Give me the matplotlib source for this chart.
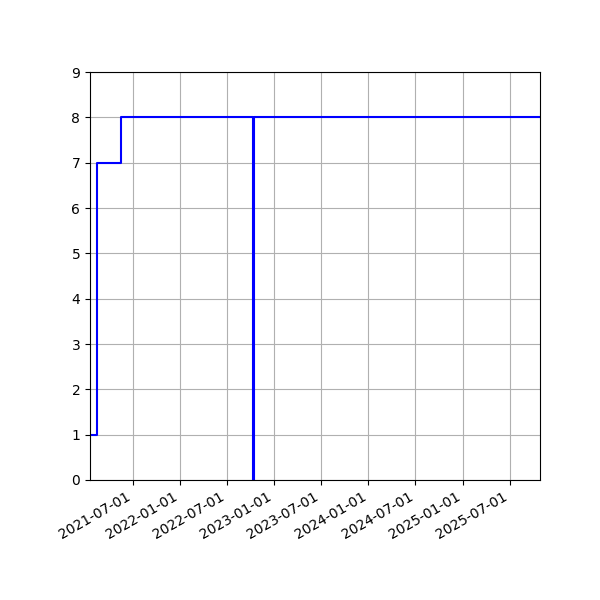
import matplotlib
matplotlib.use("Agg")
import matplotlib.pyplot as plt
import matplotlib.dates as mdates
import numpy as np

dates = np.array(["2021-01-17", "2021-02-14", "2021-05-17", "2022-10-09",
                  "2022-10-13", "2025-10-27"], dtype="datetime64[D]")
values = [1, 7, 8, 0, 8, 8]

fig, ax = plt.subplots(figsize=(6, 6), dpi=100)
fig.subplots_adjust(left=0.15, right=0.9, top=0.88)
ax.step(dates, values, where="post", color="blue")
ax.set_xlim(dates[0], dates[-1])
ax.set_ylim(0, 9)
ax.xaxis.set_major_locator(mdates.MonthLocator(bymonth=[1, 7]))
ax.xaxis.set_major_formatter(mdates.DateFormatter("%Y-%m-%d"))
ax.grid(True)
fig.autofmt_xdate()
fig.savefig("out.png")
